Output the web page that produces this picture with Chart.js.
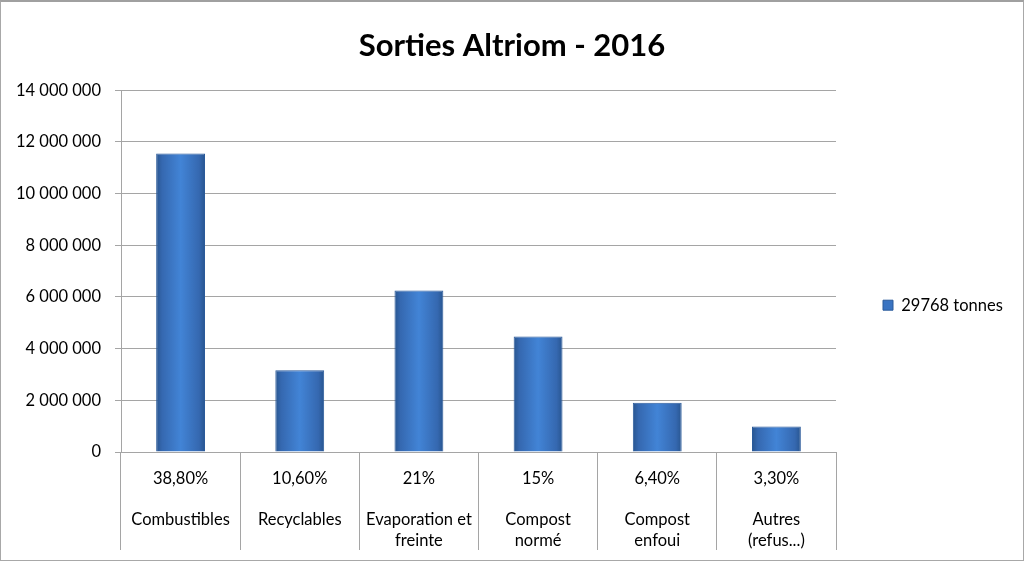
<!DOCTYPE html>
<html><head><meta charset="utf-8">
<script src="https://cdn.jsdelivr.net/npm/chart.js@4.4.0/dist/chart.umd.min.js"></script>
<style>
html,body{margin:0;padding:0;background:#fff;}
#wrap{width:1024px;height:561px;box-sizing:border-box;border:1px solid #a8a8a8;border-top:2px solid #a0a0a0;position:relative;}
canvas{display:block;}
</style></head><body>
<div id="wrap"><canvas id="c" width="1022" height="558"></canvas></div>
<script>
const categories = [["38,80%","","Combustibles"],["10,60%","","Recyclables"],["21%","","Evaporation et","freinte"],["15%","","Compost","normé"],["6,40%","","Compost","enfoui"],["3,30%","","Autres","(refus...)"]];
const seriesName = "29768 tonnes";
const values = [11550000, 3160000, 6250000, 4470000, 1910000, 990000];
const yTicks = [0, 2000000, 4000000, 6000000, 8000000, 10000000, 12000000, 14000000];

const FONT = "Lato, 'Open Sans', sans-serif";
function fmt(v){ return String(v).replace(/\B(?=(\d{3})+(?!\d))/g, " "); }

function barFill(ctx){
  const chart = ctx.chart;
  if (!chart.chartArea) return '#3c78c6';
  const xs = chart.scales.x;
  const cx = xs.getPixelForValue(ctx.dataIndex);
  const half = (xs.width / categories.length) * 0.41 / 2;
  const g = chart.ctx.createLinearGradient(cx - half, 0, cx + half, 0);
  g.addColorStop(0, '#28558f');
  g.addColorStop(0.12, '#3568b0');
  g.addColorStop(0.5, '#4284d6');
  g.addColorStop(0.88, '#3568b0');
  g.addColorStop(1, '#28558f');
  return g;
}

const legendWidth = {
  id: 'legendWidth',
  beforeLayout(chart) {
    const l = chart.legend;
    if (l && !l._fixed) {
      const f = l.fit;
      l.fit = function () { f.call(this); this.width = 187; };
      l._fixed = true;
    }
  }
};

new Chart(document.getElementById('c'), {
  type: 'bar',
  data: {
    labels: categories,
    datasets: [{
      label: seriesName,
      data: values,
      backgroundColor: barFill,
      borderColor: '#2a5a9a',
      borderWidth: 1,
      categoryPercentage: 1,
      barPercentage: 0.41
    }]
  },
  plugins: [legendWidth],
  options: {
    responsive: false,
    animation: false,
    layout: { padding: { left: 0, right: 0, top: 0, bottom: 0 } },
    plugins: {
      title: {
        display: true,
        text: 'Sorties Altriom - 2016',
        color: '#000',
        font: { family: FONT, size: 31, weight: 'bold' },
        padding: { top: 25, bottom: 26 }
      },
      legend: {
        position: 'right',
        title: { display: true, text: ' ', color: '#000', font: { family: FONT, size: 12 }, padding: { top: 0, bottom: 34 } },
        labels: {
          color: '#000',
          font: { family: FONT, size: 16.5 },
          boxWidth: 10, boxHeight: 10, padding: 47,
          generateLabels: (chart) => [{
            text: seriesName, fillStyle: '#3a74c2', strokeStyle: '#2a5a9a', lineWidth: 1, fontColor: '#000', datasetIndex: 0
          }]
        }
      },
      tooltip: { enabled: false }
    },
    scales: {
      x: {
        offset: true,
        grid: { offset: true, drawOnChartArea: false, drawTicks: true, tickLength: 98, color: '#a5a5a5', lineWidth: 1 },
        border: { display: true, color: '#a5a5a5' },
        ticks: { color: '#000', font: { family: FONT, size: 16.5, lineHeight: 1.25 }, padding: -82, maxRotation: 0, autoSkip: false },
        afterFit: (s) => { s.height = 108; }
      },
      y: {
        min: 0, max: 14000000,
        afterBuildTicks: (s) => { s.ticks = yTicks.map(v => ({ value: v })); },
        grid: { color: '#a5a5a5', lineWidth: 1, tickLength: 6 },
        border: { display: true, color: '#a5a5a5' },
        ticks: { color: '#000', font: { family: FONT, size: 16.5 }, padding: 14, callback: (v) => fmt(v) },
        afterFit: (s) => { s.width = 120; }
      }
    }
  }
});
</script>
</body></html>
